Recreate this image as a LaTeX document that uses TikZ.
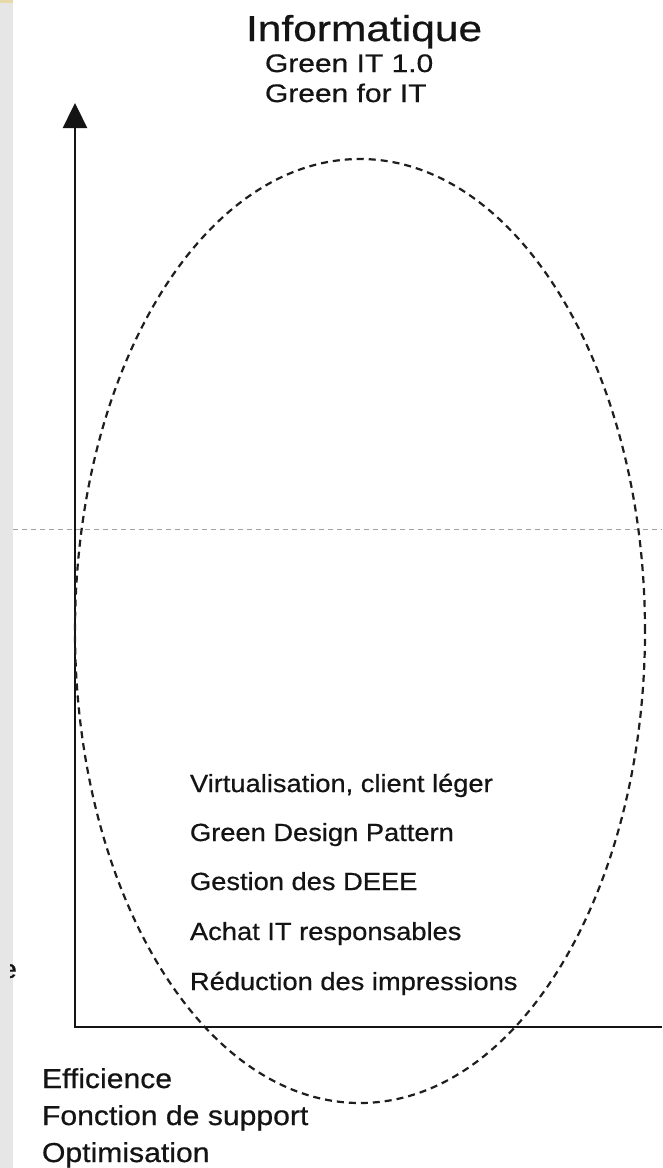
\documentclass[tikz,border=0pt]{standalone}
\usepackage{fontspec}
\setmainfont{Liberation Sans}
\newfontfamily\labelfont[FakeStretch=1.1,FakeBold=0.6]{Liberation Sans}
\newfontfamily\headfont[FakeStretch=1.18,FakeBold=0.6]{Liberation Sans}
\usetikzlibrary{arrows.meta,shapes.geometric}
\definecolor{strip}{HTML}{E6E6E6}
\definecolor{stripTop}{HTML}{E8D9A8}
\definecolor{ink}{HTML}{141414}
\definecolor{guide}{HTML}{A0A0A0}
\definecolor{loop}{HTML}{1E1E1E}
\begin{document}
\begin{tikzpicture}[x=1pt,y=-1pt,
  every node/.style={inner sep=0pt,outer sep=0pt},
  txt/.style={anchor=base west,text=ink,font=\labelfont\fontsize{#1}{#1}\selectfont},
  head/.style={anchor=base west,text=ink,font=\headfont\fontsize{#1}{#1}\selectfont},
  axisline/.style={draw=ink,line width=2.4pt},
  guideline/.style={draw=guide,line width=1pt,dash pattern=on 5pt off 4pt},
  zonestyle/.style={draw=loop,line width=2.2pt,dash pattern=on 7pt off 5pt,ellipse,
    minimum width=570pt,minimum height=944pt}]
  % page frame
  \useasboundingbox (0,0) rectangle (662,1168);
  \fill[white] (0,0) rectangle (662,1168);

  % left margin strip
  \fill[strip] (0,0) rectangle (13,1168);
  \fill[stripTop] (0,0) rectangle (13,3);

  % cut-off label at the left edge
  \begin{scope}
    \clip (10,900) rectangle (40,1000);
    \node[txt=26,anchor=base east] (cut) at (17,978) {e};
  \end{scope}

  % horizontal guide
  \coordinate (gL) at (13,529);
  \coordinate (gR) at (662,529);
  \draw[guideline] (gL) -- (gR);

  % axes
  \coordinate (origin) at (75,1027);
  \coordinate (ytop) at (75,103);
  \coordinate (xend) at (662,1027);
  \draw[axisline,{Triangle[length=25pt,width=24pt]}-] (ytop) -- (origin) -- (xend);

  % dashed zone
  \node[zonestyle] (zone) at (360,631) {};

  % titles
  \node[head=36] (title) at (246,41) {Informatique};
  \node[head=25.4] (sub1) at (265,72) {Green IT 1.0};
  \node[head=25.4] (sub2) at (265,102) {Green for IT};

  % items inside the zone
  \node[txt=24.8] (i1) at (190,792) {Virtualisation, client léger};
  \node[txt=24.8] (i2) at (190,841) {Green Design Pattern};
  \node[txt=24.8] (i3) at (190,890) {Gestion des DEEE};
  \node[txt=24.8] (i4) at (190,940) {Achat IT responsables};
  \node[txt=24.8] (i5) at (190,990) {Réduction des impressions};

  % horizontal axis labels
  \node[txt=27.4] (b1) at (42,1088) {Efficience};
  \node[txt=27.4] (b2) at (42,1125) {Fonction de support};
  \node[txt=27.4] (b3) at (42,1162) {Optimisation};
\end{tikzpicture}
\end{document}
